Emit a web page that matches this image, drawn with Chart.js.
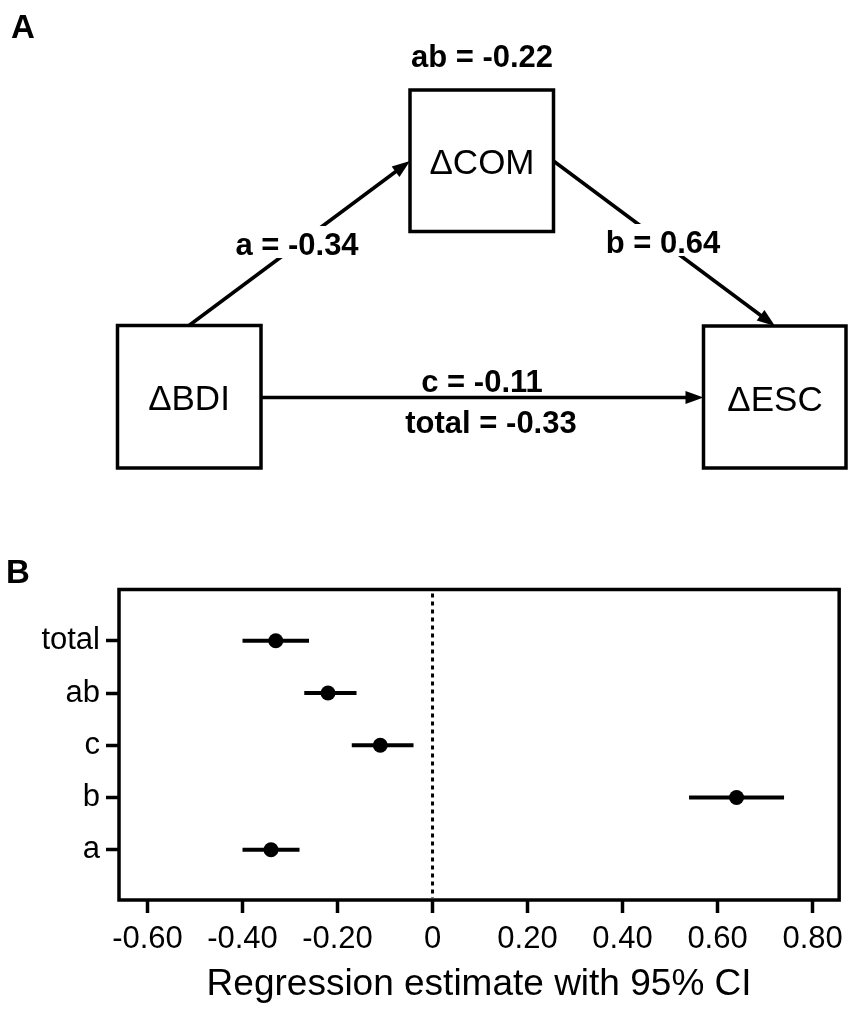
<!DOCTYPE html>
<html lang="en">
<head>
  <meta charset="UTF-8">
  <title>Mediation model</title>
  <script src="https://cdn.jsdelivr.net/npm/chart.js@4"></script>
  <style>
    html, body { margin: 0; padding: 0; background: #fff; }
    #wrap { position: relative; width: 851px; height: 1010px; }
  </style>
</head>
<body>
  <div id="wrap"><canvas id="myChart"></canvas></div>

<script>
  // paths, listed from the bottom of the y axis to the top
  var paths = ['a', 'b', 'c', 'ab', 'total'];
  var estimates = [-0.34, 0.64, -0.11, -0.22, -0.33];
  var ciLow = [-0.40, 0.54, -0.17, -0.27, -0.40];
  var ciHigh = [-0.28, 0.74, -0.04, -0.16, -0.26];
  var xTicks = [-0.6, -0.4, -0.2, 0, 0.2, 0.4, 0.6, 0.8];
  var nodes = ['ΔBDI', 'ΔCOM', 'ΔESC'];

  var FONT = '"Liberation Sans", Arial, Helvetica, sans-serif';
  Chart.defaults.color = '#000';
  Chart.defaults.font.family = FONT;

  function est(name) {
    return estimates[paths.indexOf(name)];
  }
  function pathText(name) {
    return name + ' = ' + est(name).toFixed(2);
  }

  function arrow(ctx, x1, y1, x2, y2) {
    var ang = Math.atan2(y2 - y1, x2 - x1);
    var len = 18, hw = 6.5;
    ctx.beginPath();
    ctx.moveTo(x1, y1);
    ctx.lineTo(x2 - Math.cos(ang) * len * 0.7, y2 - Math.sin(ang) * len * 0.7);
    ctx.stroke();
    ctx.beginPath();
    ctx.moveTo(x2, y2);
    ctx.lineTo(x2 - len * Math.cos(ang) + hw * Math.sin(ang), y2 - len * Math.sin(ang) - hw * Math.cos(ang));
    ctx.lineTo(x2 - len * Math.cos(ang) - hw * Math.sin(ang), y2 - len * Math.sin(ang) + hw * Math.cos(ang));
    ctx.closePath();
    ctx.fill();
  }

  function label(ctx, txt, x, y, knockout) {
    ctx.font = 'bold 31px ' + FONT;
    ctx.textAlign = 'center';
    ctx.textBaseline = 'alphabetic';
    if (knockout) {
      var w = ctx.measureText(txt).width;
      ctx.fillStyle = '#fff';
      ctx.fillRect(x - w / 2 - 4, y - 29, w + 8, 32);
    }
    ctx.fillStyle = '#000';
    ctx.fillText(txt, x, y);
  }

  // panel A: path diagram, plus the panel letters
  const diagram = {
    id: 'diagram',
    afterDraw(chart) {
      const ctx = chart.ctx;
      ctx.save();
      ctx.strokeStyle = '#000';
      ctx.fillStyle = '#000';
      ctx.lineWidth = 3.5;
      ctx.lineJoin = 'miter';

      ctx.strokeRect(117.5, 325.5, 143.5, 142.5);
      ctx.strokeRect(410, 90, 143.5, 141.5);
      ctx.strokeRect(703.5, 326, 142.5, 142);

      arrow(ctx, 189, 325.5, 410, 161);
      arrow(ctx, 553.5, 161, 775, 326);
      arrow(ctx, 261, 397.5, 703.5, 397.5);

      ctx.font = '35px ' + FONT;
      ctx.textAlign = 'center';
      ctx.textBaseline = 'alphabetic';
      ctx.fillText(nodes[0], 189, 410);
      ctx.fillText(nodes[1], 482, 174);
      ctx.fillText(nodes[2], 775, 411);

      label(ctx, pathText('ab'), 482, 67);
      label(ctx, pathText('a'), 297, 255, true);
      label(ctx, pathText('b'), 663, 253, true);
      label(ctx, pathText('c'), 482, 392);
      label(ctx, pathText('total'), 491, 433);

      ctx.font = 'bold 33px ' + FONT;
      ctx.textAlign = 'left';
      ctx.fillText('A', 11, 38);
      ctx.fillText('B', 6, 583);
      ctx.restore();
    }
  };

  // panel B: zero line, confidence intervals and frame
  const forest = {
    id: 'forest',
    beforeDatasetsDraw(chart) {
      const ctx = chart.ctx, a = chart.chartArea;
      const xs = chart.scales.x, ys = chart.scales.y;
      ctx.save();
      ctx.strokeStyle = '#000';
      ctx.lineWidth = 3;
      ctx.setLineDash([4, 4]);
      const x0 = xs.getPixelForValue(0);
      ctx.beginPath();
      ctx.moveTo(x0, a.top + 4);
      ctx.lineTo(x0, a.bottom - 2);
      ctx.stroke();

      ctx.setLineDash([]);
      ctx.lineWidth = 4;
      for (var i = 0; i < paths.length; i++) {
        const py = ys.getPixelForValue(i + 1);
        ctx.beginPath();
        ctx.moveTo(xs.getPixelForValue(ciLow[i]), py);
        ctx.lineTo(xs.getPixelForValue(ciHigh[i]), py);
        ctx.stroke();
      }
      ctx.restore();
    },
    afterDatasetsDraw(chart) {
      const ctx = chart.ctx, a = chart.chartArea;
      ctx.save();
      ctx.strokeStyle = '#000';
      ctx.lineWidth = 3.5;
      ctx.strokeRect(a.left, a.top, a.right - a.left, a.bottom - a.top);
      ctx.restore();
    }
  };

  var points = [];
  for (var i = 0; i < paths.length; i++) {
    points.push({ x: estimates[i], y: i + 1 });
  }

  const config = {
    type: 'scatter',
    data: {
      datasets: [{
        label: 'Estimate',
        data: points,
        backgroundColor: '#000',
        borderColor: '#000',
        borderWidth: 0,
        pointRadius: 7.5,
        pointHoverRadius: 7.5
      }]
    },
    options: {
      responsive: true,
      maintainAspectRatio: false,
      animation: false,
      events: [],
      layout: { padding: { left: 0, top: 589.5, right: 6, bottom: 0 } },
      plugins: {
        legend: { display: false },
        tooltip: { enabled: false }
      },
      scales: {
        x: {
          type: 'linear',
          position: 'bottom',
          min: -0.66,
          max: 0.856,
          afterBuildTicks: function (s) {
            s.ticks = xTicks.map(function (v) { return { value: v }; });
          },
          afterFit: function (s) { s.height = 110; },
          grid: {
            drawOnChartArea: false,
            drawTicks: true,
            tickLength: 13,
            tickColor: '#000',
            tickWidth: 3.5
          },
          border: { display: false },
          ticks: {
            autoSkip: false,
            maxRotation: 0,
            padding: 8,
            font: { size: 31 },
            callback: function (v) {
              return Math.abs(v) < 1e-9 ? '0' : v.toFixed(2);
            }
          },
          title: {
            display: true,
            text: 'Regression estimate with 95% CI',
            font: { size: 37 },
            padding: { top: 0, bottom: 3 }
          }
        },
        y: {
          type: 'linear',
          min: 0.04,
          max: 5.98,
          afterBuildTicks: function (s) {
            s.ticks = paths.map(function (p, i) { return { value: i + 1 }; });
          },
          afterFit: function (s) { s.width = 119; },
          grid: {
            drawOnChartArea: false,
            drawTicks: true,
            tickLength: 13,
            tickColor: '#000',
            tickWidth: 3.5
          },
          border: { display: false },
          ticks: {
            autoSkip: false,
            padding: 6,
            font: { size: 31 },
            callback: function (v) { return paths[v - 1]; }
          }
        }
      }
    },
    plugins: [forest, diagram]
  };

  let myChart = new Chart(document.getElementById('myChart'), config);
</script>
</body>
</html>
